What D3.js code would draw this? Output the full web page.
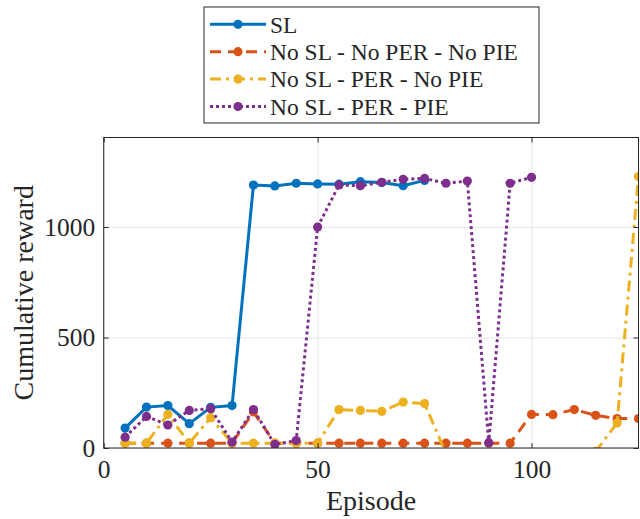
<!DOCTYPE html>
<html>
<head>
<meta charset="utf-8">
<script src="https://cdn.jsdelivr.net/npm/d3@7"></script>
<style>
  body { margin: 0; background: #fff; }
  svg { display: block; }
  text { font-family: "Liberation Serif", "DejaVu Serif", serif; fill: #262626; }
</style>
</head>
<body>
<script>
// episodes where each run was evaluated
var episodes = [5, 10, 15, 20, 25, 30, 35, 40, 45, 50, 55, 60, 65, 70, 75,
                80, 85, 90, 95, 100, 105, 110, 115, 120, 125];

// cumulative reward per run
var sl = [90, 185, 192, 110, 184, 192, 1190, 1186, 1198, 1195, 1194, 1205, 1201, 1187, 1211];
var noSlNoPerNoPie = [22, 22, 22, 22, 22, 22, 163, 22, 22, 22, 22, 22, 22, 22, 22,
                      22, 22, 22, 22, 152, 151, 174, 148, 133, 133];
// values under zero are cut off by the axes in the original
var noSlPerNoPie = [22, 22, 152, 22, 137, 22, 22, 22, 22, 22, 174, 170, 166, 208, 201,
                    -25, -25, -25, -25, -25, -25, -25, -15, 113, 1228];
var noSlPerPie = [49, 143, 104, 170, 178, 27, 174, 16, 34, 1000, 1190, 1187, 1202, 1216, 1220,
                  1198, 1208, 24, 1198, 1225];

var xTicks = [0, 50, 100];
var yTicks = [0, 500, 1000];

var series = [
  {name: "SL", values: sl, color: "#0072BD", dash: null},
  {name: "No SL - No PER - No PIE", values: noSlNoPerNoPie, color: "#D95319", dash: "11,7"},
  {name: "No SL - PER - No PIE", values: noSlPerNoPie, color: "#EDB120", dash: "11,5,3,5"},
  {name: "No SL - PER - PIE", values: noSlPerPie, color: "#7E2F8E", dash: "3,3"}
];

var W = 640, H = 519;
// axes box in page pixels (note: "top" is taken by window.top)
var mLeft = 103.7, mRight = 638.5, mTop = 137.5, mBottom = 448;
var pw = mRight - mLeft, ph = mBottom - mTop;

var svg = d3.select("body").append("svg")
    .attr("width", W)
    .attr("height", H);

var x = d3.scaleLinear().domain([0, 125]).range([0, pw]);
var y = d3.scaleLinear().domain([0, 1405]).range([ph, 0]);

var g = svg.append("g").attr("transform", "translate(" + mLeft + "," + mTop + ")");

// grid
g.append("g")
    .attr("class", "grid")
    .attr("transform", "translate(0," + ph + ")")
    .call(d3.axisBottom(x).tickValues(xTicks).tickSize(-ph).tickFormat(""));
g.append("g")
    .attr("class", "grid")
    .call(d3.axisLeft(y).tickValues(yTicks).tickSize(-pw).tickFormat(""));
g.selectAll(".grid .domain").remove();
g.selectAll(".grid line").attr("stroke", "#e6e6e6").attr("stroke-width", 1);

// clip the data to the axes box, like matlab does
svg.append("defs").append("clipPath").attr("id", "clip")
  .append("rect").attr("width", pw).attr("height", ph);

var plot = g.append("g").attr("clip-path", "url(#clip)");

var line = d3.line()
    .x(function(d, i) { return x(episodes[i]); })
    .y(function(d) { return y(d); });

series.forEach(function(s) {
  var sg = plot.append("g");
  sg.append("path")
      .datum(s.values)
      .attr("d", line)
      .attr("fill", "none")
      .attr("stroke", s.color)
      .attr("stroke-width", 3)
      .attr("stroke-dasharray", s.dash);
  sg.selectAll("circle")
      .data(s.values)
      .enter()
      .append("circle")
      .attr("cx", function(d, i) { return x(episodes[i]); })
      .attr("cy", function(d) { return y(d); })
      .attr("r", 4.6)
      .attr("fill", s.color);
});

// axes, ticks pointing inwards on all four sides
var fmt = d3.format("d");
g.append("g")
    .attr("class", "ax")
    .attr("transform", "translate(0," + ph + ")")
    .call(d3.axisBottom(x).tickValues(xTicks).tickFormat(fmt).tickSizeInner(-5).tickSizeOuter(0).tickPadding(12));
g.append("g")
    .attr("class", "ax")
    .call(d3.axisLeft(y).tickValues(yTicks).tickFormat(fmt).tickSizeInner(-5).tickSizeOuter(0).tickPadding(8.5));
g.append("g")
    .attr("class", "ax")
    .call(d3.axisTop(x).tickValues(xTicks).tickSizeInner(-5).tickSizeOuter(0).tickFormat(""));
g.append("g")
    .attr("class", "ax")
    .attr("transform", "translate(" + pw + ",0)")
    .call(d3.axisRight(y).tickValues(yTicks).tickSizeInner(-5).tickSizeOuter(0).tickFormat(""));

g.selectAll(".ax .domain").remove();
g.selectAll(".ax .tick line").attr("stroke", "#262626");
g.selectAll(".ax .tick text")
    .attr("font-size", "25.5px")
    .attr("fill", "#262626");

g.append("rect")
    .attr("width", pw)
    .attr("height", ph)
    .attr("fill", "none")
    .attr("stroke", "#262626")
    .attr("stroke-width", 1);

// axis labels
svg.append("text")
    .attr("x", mLeft + pw / 2)
    .attr("y", 510)
    .attr("text-anchor", "middle")
    .attr("font-size", "28px")
    .text("Episode");

svg.append("text")
    .attr("transform", "translate(33," + (mTop + ph / 2) + ") rotate(-90)")
    .attr("text-anchor", "middle")
    .attr("font-size", "28px")
    .text("Cumulative reward");

// legend above the axes
var lg = svg.append("g").attr("transform", "translate(204,7)");
lg.append("rect")
    .attr("width", 335)
    .attr("height", 116)
    .attr("fill", "#fff")
    .attr("stroke", "#262626")
    .attr("stroke-width", 1);

var rows = lg.selectAll(".row")
    .data(series)
    .enter()
    .append("g")
    .attr("transform", function(d, i) { return "translate(0," + (17.3 + i * 27.4) + ")"; });

rows.append("line")
    .attr("x1", 6).attr("x2", 62)
    .attr("stroke", function(d) { return d.color; })
    .attr("stroke-width", 3)
    .attr("stroke-dasharray", function(d) { return d.dash; });
rows.append("circle")
    .attr("cx", 34)
    .attr("r", 4.6)
    .attr("fill", function(d) { return d.color; });
rows.append("text")
    .attr("x", 66)
    .attr("dy", "0.35em")
    .attr("font-size", "23.5px")
    .text(function(d) { return d.name; });
</script>
</body>
</html>
